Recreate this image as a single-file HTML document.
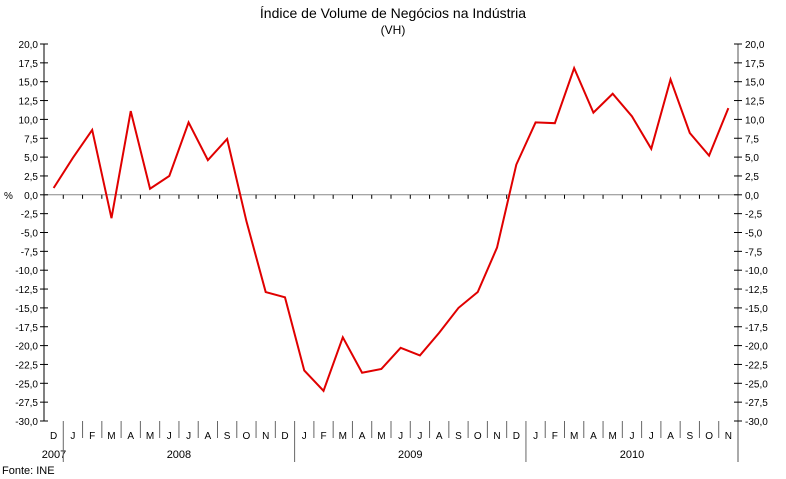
<!DOCTYPE html>
<html><head><meta charset="utf-8"><style>
body{margin:0;background:#fff;}
svg{display:block;font-family:"Liberation Sans",Arial,sans-serif;}
</style></head><body>
<svg id="chart" width="786" height="479">
<text x="393" y="18" text-anchor="middle" font-size="14" fill="#000">Índice de Volume de Negócios na Indústria</text>
<text x="393" y="34" text-anchor="middle" font-size="12" fill="#000">(VH)</text>
<text x="2" y="474" font-size="11" fill="#000">Fonte: INE</text>
<text x="4" y="199" font-size="10" fill="#000">%</text>
<g id="axes"></g>
<g id="series"></g>
</svg>
<script>
const months = ["D","J","F","M","A","M","J","J","A","S","O","N","D","J","F","M","A","M","J","J","A","S","O","N","D","J","F","M","A","M","J","J","A","S","O","N"];
const years = ["2007","2008","2009","2010"];
const yearStarts = [0,1,13,25];
const values = [0.9,4.9,8.6,-3.1,11.1,0.8,2.5,9.6,4.6,7.4,-3.5,-12.9,-13.6,-23.3,-26.0,-18.9,-23.6,-23.1,-20.3,-21.3,-18.3,-15.0,-12.9,-7.0,4.0,9.6,9.5,16.8,10.9,13.4,10.4,6.1,15.3,8.2,5.2,11.5];
const yTicks = [20,17.5,15,12.5,10,7.5,5,2.5,0,-2.5,-5,-7.5,-10,-12.5,-15,-17.5,-20,-22.5,-25,-27.5,-30];

const X0=44,X1=738,Y0=44,Y1=421,YMAX=20,YMIN=-30;
const bw=(X1-X0)/months.length;
const y=v=>Y0+(YMAX-v)/(YMAX-YMIN)*(Y1-Y0);
const xc=i=>X0+bw*(i+0.5);
const xb=i=>X0+bw*i;
const NS="http://www.w3.org/2000/svg";
const ax=document.getElementById('axes');
function mk(t,a,p){const e=document.createElementNS(NS,t);for(const k in a)e.setAttribute(k,a[k]);(p||ax).appendChild(e);return e;}

let l=mk('line',{x1:X0,y1:Y0,x2:X0,y2:Y1,stroke:'#000','stroke-width':1});


l=mk('line',{x1:X1,y1:Y0,x2:X1,y2:462,stroke:'#555','stroke-width':1});


l=mk('line',{x1:X0,y1:y(0),x2:X1,y2:y(0),stroke:'#888','stroke-width':1});



yTicks.forEach(v=>{
  const yy=y(v);
  const lab=v.toFixed(1).replace('.',',');
  mk('line',{x1:X0-4,y1:yy,x2:X0+4,y2:yy,stroke:'#000'});
  mk('line',{x1:X1-4,y1:yy,x2:X1+4,y2:yy,stroke:'#000'});
  let t=mk('text',{x:X0-6,y:yy+4,'text-anchor':'end','font-size':10});
  t.textContent=lab;
  
  
  t=mk('text',{x:X1+7,y:yy+4,'font-size':10});
  t.textContent=lab;
  
  
});

months.forEach((m,i)=>{
  mk('line',{x1:xb(i),y1:y(0),x2:xb(i),y2:y(0)+4,stroke:'#000'});
  if(i>0&&!yearStarts.includes(i)) mk('line',{x1:xb(i),y1:Y1,x2:xb(i),y2:438,stroke:'#666'});
  const t=mk('text',{x:xc(i),y:439,'text-anchor':'middle','font-size':10});
  t.textContent=m;
  
  
});
yearStarts.forEach((s,k)=>{
  if(s>0) mk('line',{x1:xb(s),y1:Y1,x2:xb(s),y2:462,stroke:'#666'});
  const e=k<years.length-1?yearStarts[k+1]:months.length;
  const t=mk('text',{x:k===0?54:(xb(s)+xb(e))/2,y:458,'text-anchor':'middle','font-size':11});
  t.textContent=years[k];
  
  
});

const sg=document.getElementById('series');
const p=mk('polyline',{points:values.map((v,i)=>xc(i)+','+y(v)).join(' '),fill:'none',stroke:'#e00000','stroke-width':2,'stroke-linejoin':'miter'},sg);


</script>
</body></html>
